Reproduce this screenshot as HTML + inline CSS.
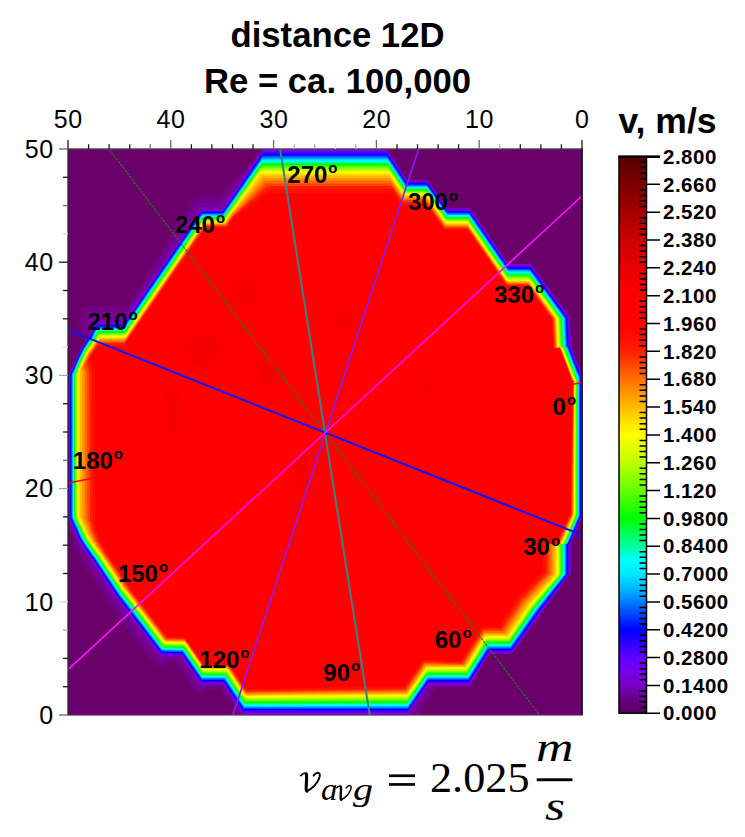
<!DOCTYPE html>
<html><head><meta charset="utf-8"><style>
html,body{margin:0;padding:0;background:#fff;width:745px;height:837px;overflow:hidden}
svg{display:block}
</style></head><body>
<svg width="745" height="837" viewBox="0 0 745 837">
<defs><clipPath id="pc"><rect x="68" y="149" width="514" height="566"/></clipPath>
<filter id="bl" x="-2%" y="-2%" width="104%" height="104%"><feGaussianBlur stdDeviation="0.6"/></filter><filter id="bb" x="-50%" y="-50%" width="200%" height="200%"><feGaussianBlur stdDeviation="5"/></filter>
<linearGradient id="cbg" x1="0" y1="1" x2="0" y2="0">
<stop offset="0.0000" stop-color="#58005c"/>
<stop offset="0.0250" stop-color="#680084"/>
<stop offset="0.0500" stop-color="#7800c3"/>
<stop offset="0.0750" stop-color="#7600eb"/>
<stop offset="0.1000" stop-color="#6000ff"/>
<stop offset="0.1250" stop-color="#3000ff"/>
<stop offset="0.1500" stop-color="#0000ff"/>
<stop offset="0.1750" stop-color="#0040ff"/>
<stop offset="0.2000" stop-color="#007dff"/>
<stop offset="0.2250" stop-color="#00b9ff"/>
<stop offset="0.2500" stop-color="#00e8ff"/>
<stop offset="0.2750" stop-color="#00ffff"/>
<stop offset="0.3000" stop-color="#00ffa0"/>
<stop offset="0.3250" stop-color="#00ff50"/>
<stop offset="0.3500" stop-color="#00ff00"/>
<stop offset="0.4000" stop-color="#64ff00"/>
<stop offset="0.4500" stop-color="#beff00"/>
<stop offset="0.5000" stop-color="#ffff00"/>
<stop offset="0.5250" stop-color="#ffde00"/>
<stop offset="0.5500" stop-color="#ffba00"/>
<stop offset="0.5750" stop-color="#ff9600"/>
<stop offset="0.6000" stop-color="#ff7000"/>
<stop offset="0.6250" stop-color="#ff4800"/>
<stop offset="0.6500" stop-color="#ff1e00"/>
<stop offset="0.7000" stop-color="#ff0000"/>
<stop offset="0.7500" stop-color="#ff0000"/>
<stop offset="0.8000" stop-color="#e80000"/>
<stop offset="0.8500" stop-color="#cd0000"/>
<stop offset="0.9000" stop-color="#a50000"/>
<stop offset="0.9500" stop-color="#7d0000"/>
<stop offset="1.0000" stop-color="#580000"/>
</linearGradient></defs>
<rect width="745" height="837" fill="#fff"/>
<g font-family="Liberation Sans, sans-serif" font-weight="bold" font-size="34.7" text-anchor="middle" fill="#000">
<text x="337.5" y="47">distance 12D</text>
<text x="337.5" y="93">Re = ca. 100,000</text>
</g>
<g clip-path="url(#pc)">
<rect x="68" y="149" width="514" height="566" fill="#6a006a"/>
<g filter="url(#bl)">
<path d="M263.1 149.1L262.4 150.4L258.4 153.9L219.1 195.4L198.4 195.6L193.4 197.6L189.6 201.1L187.9 204.4L187.1 207.1L128.1 305.4L125.6 304.9L92.4 305.4L87.9 306.6L85.1 308.1L80.9 312.1L78.4 316.9L77.6 319.9L77.6 325.1L78.1 327.4L80.9 332.9L84.1 336.1L87.1 337.9L87.4 338.6L82.1 346.4L77.6 355.4L73.4 365.6L68.6 374.9L68.6 514.6L66.9 515.4L65.9 516.4L65.4 517.9L65.6 519.1L69.1 526.6L68.6 529.1L71.1 535.1L70.6 537.1L70.9 538.9L73.6 544.1L73.4 545.6L73.9 547.9L80.4 557.6L80.4 560.1L81.4 563.4L106.4 600.6L106.6 602.1L109.4 606.6L153.4 663.9L156.9 665.9L158.9 666.4L162.1 666.4L166.6 664.6L169.4 661.9L174.1 661.9L192.9 689.1L196.6 692.6L199.6 693.6L202.4 693.6L204.9 692.9L206.9 691.6L209.1 688.9L220.6 688.9L239.1 716.9L241.9 718.9L244.1 718.9L245.6 718.1L246.9 716.9L247.9 714.4L398.4 714.4L399.6 718.6L402.1 721.6L404.1 722.9L406.6 723.6L410.4 723.4L412.4 722.6L415.4 720.1L437.1 688.1L470.9 687.9L472.6 686.4L472.9 685.6L472.6 683.6L471.6 682.6L472.1 681.4L489.6 653.6L511.9 653.6L541.4 612.6L570.6 573.1L570.6 543.6L582.1 516.9L582.1 374.9L571.1 347.4L569.6 317.6L530.6 264.1L508.4 264.1L470.1 208.6L447.9 208.6L427.6 180.6L407.1 180.6L386.6 149.1Z" fill="#6f007e"/>
<path d="M263.1 149.1L219.4 199.4L199.4 199.4L195.9 200.6L193.4 202.6L191.4 205.9L191.1 207.4L126.9 310.1L125.6 309.6L92.6 310.1L87.6 312.1L83.9 316.1L82.4 320.1L82.6 325.9L85.1 330.6L89.6 334.1L87.9 337.9L82.1 346.4L77.6 355.4L73.4 365.6L68.6 374.9L68.6 515.6L66.6 516.9L66.4 518.6L70.4 527.4L69.9 528.6L72.6 535.4L72.6 538.9L75.6 544.1L75.9 547.1L82.9 557.4L83.4 560.9L84.6 563.4L109.4 600.1L109.9 602.1L154.4 660.6L158.1 663.1L161.9 663.4L164.1 662.6L166.9 660.1L176.1 660.4L194.6 687.1L197.1 689.9L198.4 690.6L200.4 691.1L203.6 690.6L206.9 687.6L221.4 687.6L241.1 717.1L242.4 717.6L244.4 717.4L245.9 716.1L246.6 714.4L401.1 714.4L401.9 717.4L404.1 719.9L407.4 721.1L409.9 720.9L411.9 719.9L414.4 717.1L434.9 687.1L470.6 687.1L471.9 685.9L471.9 684.1L471.1 683.1L489.6 653.6L511.9 653.6L541.4 612.6L570.6 573.1L570.6 543.6L582.1 516.9L582.1 374.9L571.1 347.4L569.6 317.6L530.6 264.1L508.4 264.1L470.1 208.6L447.9 208.6L427.6 180.6L407.1 180.6L386.6 149.1Z" fill="#73008b"/>
<path d="M263.1 149.1L220.4 203.1L200.4 203.1L197.1 204.4L195.9 205.6L193.1 210.9L125.9 314.6L110.1 314.4L92.9 314.9L90.1 316.1L87.9 318.6L86.9 321.9L87.1 324.4L88.4 327.1L91.6 329.9L87.9 337.9L82.1 346.4L77.6 355.4L73.4 365.6L68.6 374.9L68.6 516.4L67.4 517.1L67.1 518.4L71.4 527.4L71.4 529.6L74.1 535.6L74.4 538.6L77.9 544.6L77.9 546.4L86.1 558.4L85.9 559.1L86.4 560.9L112.4 599.6L113.1 601.6L156.6 658.6L158.1 659.9L159.6 660.4L162.4 660.1L164.6 658.4L178.1 658.6L196.4 685.1L199.1 688.1L202.1 688.4L203.6 687.6L204.6 686.4L222.1 686.4L241.6 715.9L243.4 716.4L244.6 715.6L245.1 714.4L403.6 714.4L404.1 716.1L405.4 717.6L406.9 718.4L409.1 718.4L411.4 716.9L432.4 686.4L470.1 686.4L471.1 685.4L470.6 683.9L489.6 653.6L511.9 653.6L541.4 612.6L570.6 573.1L570.6 543.6L582.1 516.9L582.1 374.9L571.1 347.4L569.6 317.6L530.6 264.1L508.4 264.1L470.1 208.6L447.9 208.6L427.6 180.6L407.1 180.6L386.6 149.1Z" fill="#760098"/>
<path d="M263.1 149.1L221.6 207.1L200.1 207.1L198.9 208.1L124.4 319.1L94.4 319.4L93.1 319.9L91.9 321.1L91.9 323.9L93.6 325.6L87.9 337.9L82.1 346.4L77.6 355.4L73.4 365.6L68.6 374.9L68.6 517.4L68.1 517.6L68.1 518.4L72.6 528.1L72.9 529.9L75.9 536.6L75.9 537.6L79.9 544.6L79.9 545.6L88.9 558.6L88.9 559.6L115.4 599.6L158.9 656.6L159.9 657.4L161.1 657.4L162.1 656.6L180.1 656.9L200.4 685.9L201.6 685.9L202.4 685.1L222.9 685.1L242.4 714.9L243.1 715.1L243.9 714.4L406.1 714.4L407.4 715.9L408.6 715.9L429.9 685.4L470.1 685.4L470.9 683.4L489.6 653.6L511.9 653.6L541.4 612.6L570.6 573.1L570.6 543.6L582.1 516.9L582.1 374.9L571.1 347.4L569.6 317.6L530.6 264.1L508.4 264.1L470.1 208.6L447.9 208.6L427.6 180.6L407.1 180.6L386.6 149.1Z" fill="#7900a6"/>
<path d="M263.1 149.1L222.6 209.6L201.1 209.6L123.9 321.9L123.6 322.1L116.6 322.1L116.4 322.4L94.9 322.6L87.9 337.9L82.1 346.4L77.6 355.4L73.4 365.6L68.6 374.9L68.6 518.4L76.1 535.4L81.1 544.9L116.9 598.4L160.6 655.6L181.6 656.1L201.1 684.4L223.4 684.4L243.1 714.4L408.1 714.4L428.4 685.1L469.9 685.1L489.6 653.6L511.9 653.6L541.4 612.6L570.6 573.1L570.6 543.6L582.1 516.9L582.1 374.9L571.1 347.4L569.6 317.6L530.6 264.1L508.4 264.1L470.1 208.6L447.9 208.6L427.6 180.6L407.1 180.6L386.6 149.1Z" fill="#7f00d0"/>
<path d="M262.9 150.9L222.6 210.6L201.1 210.6L124.4 322.4L123.6 323.1L122.1 323.4L95.1 323.6L89.1 337.1L82.9 346.1L77.4 357.1L73.1 367.4L69.4 374.9L69.4 518.1L74.4 528.9L77.1 535.9L82.6 545.9L91.9 559.1L117.4 597.6L160.9 654.4L181.6 654.9L183.6 657.4L201.1 683.1L223.6 683.1L243.1 712.9L407.9 712.9L428.1 683.6L469.4 683.6L488.1 653.6L489.4 652.1L511.4 652.1L540.4 611.9L569.4 573.4L569.4 543.9L569.9 543.6L581.4 516.4L581.4 375.4L570.4 347.4L569.9 346.9L568.4 317.4L530.4 265.4L508.4 265.4L507.6 264.6L469.6 209.6L447.6 209.6L427.4 181.6L406.9 181.6L386.6 150.9Z" fill="#6000ff"/>
<path d="M262.9 152.6L222.9 211.6L201.4 211.6L124.4 323.6L123.6 324.4L95.6 324.9L89.6 337.6L88.9 338.1L83.1 346.9L78.6 355.6L73.6 367.6L70.1 374.6L70.1 518.1L75.4 529.4L77.9 535.9L81.6 542.9L92.1 558.1L117.9 596.9L161.1 653.4L164.9 653.4L165.1 653.6L181.9 653.9L201.4 681.9L223.6 681.9L230.9 692.4L243.4 711.6L407.9 711.4L427.9 682.4L469.1 682.4L488.9 650.9L511.4 650.9L538.6 612.6L568.6 573.4L568.4 573.1L568.4 543.9L569.1 543.6L569.9 542.4L580.9 516.1L580.9 375.9L579.1 372.1L569.6 347.4L568.9 346.9L567.4 317.4L530.4 266.6L508.1 266.6L469.6 210.9L447.6 210.9L445.4 208.1L427.4 182.6L406.6 182.6L386.9 152.6Z" fill="#2d00ff"/>
<path d="M262.6 154.4L223.1 212.4L201.9 212.4L124.4 324.9L123.9 325.4L117.9 325.4L117.6 325.6L95.9 325.9L90.4 337.9L89.9 338.4L89.6 338.1L83.6 347.1L78.9 356.4L73.4 369.6L70.6 374.9L70.6 517.6L74.9 527.1L75.6 528.1L78.6 535.9L84.4 545.9L92.9 557.9L118.6 596.6L161.4 652.4L163.6 652.6L182.1 652.9L201.6 680.9L224.1 680.9L243.4 710.1L407.9 710.1L427.9 681.1L468.9 681.1L488.6 649.9L510.9 649.9L537.6 612.4L567.6 573.6L567.6 543.9L568.6 543.6L580.1 516.4L580.1 376.1L568.9 347.4L568.1 347.1L567.9 346.1L566.6 317.9L530.1 267.9L508.1 267.9L469.4 211.9L447.4 211.9L427.1 183.6L406.4 183.6L387.1 154.4Z" fill="#0005ff"/>
<path d="M262.6 155.6L223.1 213.1L201.9 213.1L123.9 326.4L96.1 326.6L90.9 338.1L89.6 338.9L83.6 347.9L79.1 356.9L74.1 369.1L71.1 375.1L71.1 517.4L75.4 526.9L76.1 527.9L79.4 536.1L83.4 543.4L95.1 560.1L118.9 595.9L161.6 651.6L164.6 651.6L164.9 651.9L182.4 652.1L201.6 679.9L224.4 679.9L243.6 709.1L407.9 708.9L427.9 680.1L468.6 680.1L488.4 648.9L510.9 648.9L537.4 611.4L566.9 573.6L566.6 573.4L566.6 543.9L568.1 543.6L579.9 515.6L579.9 376.6L576.6 369.1L568.4 347.6L567.4 347.1L567.1 346.1L565.9 317.9L530.1 268.9L508.1 268.9L469.1 212.6L447.1 212.6L427.1 184.6L406.4 184.6L387.1 155.6Z" fill="#0044ff"/>
<path d="M262.4 157.1L223.1 213.9L202.1 213.9L124.4 326.9L124.1 327.1L116.9 327.1L116.6 327.4L96.4 327.6L91.4 338.4L90.4 338.6L84.1 347.9L79.4 357.4L75.4 366.6L74.9 368.6L71.9 374.6L71.9 517.6L75.6 526.1L76.6 527.6L79.9 535.9L83.6 542.6L98.9 564.6L119.1 595.1L161.9 650.9L165.9 650.9L166.1 651.1L182.6 651.4L201.9 679.1L224.6 679.1L243.9 708.1L407.9 707.9L427.6 679.1L468.6 679.1L488.1 647.9L510.6 647.9L536.6 611.1L565.9 574.1L565.9 543.9L567.6 543.6L579.4 515.6L579.4 376.9L576.6 370.6L567.6 347.4L566.6 347.1L566.4 346.4L565.1 317.9L530.1 269.9L508.1 269.9L507.4 269.1L469.1 213.4L447.1 213.4L426.9 185.4L406.1 185.4L387.4 157.1Z" fill="#0081ff"/>
<path d="M262.4 158.4L223.4 214.6L202.4 214.6L201.6 215.4L124.9 327.1L124.1 327.9L120.9 327.9L120.6 328.1L96.6 328.4L91.6 338.9L90.9 338.6L84.4 348.4L79.6 357.9L75.4 367.6L75.1 369.1L72.4 374.6L72.4 517.4L77.6 528.6L80.1 535.1L83.4 541.1L86.6 546.1L95.4 558.4L119.6 594.9L122.6 598.4L161.9 650.1L182.6 650.6L183.6 651.6L201.9 678.1L224.6 678.1L243.9 707.1L407.9 706.9L427.6 678.1L468.4 678.1L487.9 646.9L510.6 646.9L536.6 609.9L565.4 573.9L565.1 573.6L565.1 543.9L567.1 543.6L578.9 515.9L578.9 377.1L575.9 370.1L567.1 347.4L565.9 347.1L564.4 317.9L529.9 270.6L507.9 270.6L469.1 214.4L447.1 214.4L426.9 186.1L405.9 186.1L387.4 158.4Z" fill="#00bcff"/>
<path d="M262.1 159.6L223.4 215.4L202.4 215.4L124.9 327.9L124.1 328.6L96.9 329.1L92.4 338.6L90.9 339.4L84.6 348.6L79.9 358.1L75.9 367.4L75.6 368.9L72.9 374.4L72.9 517.6L78.1 528.6L80.6 535.1L85.1 543.1L93.9 555.9L95.1 557.1L120.1 594.6L121.4 595.9L162.4 649.6L182.9 650.1L183.9 651.1L202.1 677.6L225.1 677.6L244.1 706.4L407.9 705.9L427.6 677.4L468.1 677.4L486.6 647.6L487.9 646.1L510.4 646.1L536.6 608.9L564.6 574.1L564.6 543.9L566.6 543.6L567.4 542.4L578.6 515.4L578.6 377.6L576.9 373.9L566.6 347.4L565.1 347.1L563.9 318.4L562.4 315.9L530.1 271.6L508.1 271.6L507.4 270.9L468.9 214.9L446.9 214.9L426.9 186.9L405.6 186.9L387.6 159.6Z" fill="#00eaff"/>
<path d="M262.1 160.6L223.4 215.9L202.6 215.9L124.6 329.1L124.4 329.4L97.1 329.9L92.4 339.4L91.6 339.1L84.9 348.9L80.4 357.9L75.9 368.4L76.1 368.6L73.1 374.9L73.1 517.1L78.6 528.6L81.1 535.1L86.4 544.1L94.1 555.4L95.4 556.6L120.4 594.1L124.1 598.6L162.4 648.9L165.9 648.9L166.1 649.1L183.1 649.4L202.1 676.9L225.1 676.9L244.4 705.6L244.9 705.4L407.9 705.1L427.4 676.6L467.9 676.6L486.9 646.1L487.6 645.4L510.1 645.4L535.6 609.1L563.9 574.4L563.9 543.9L566.4 543.6L578.1 515.6L578.1 377.6L577.4 376.4L566.1 347.4L564.6 347.1L563.1 317.9L529.9 272.4L507.9 272.4L468.6 215.6L446.9 215.6L426.6 187.6L405.6 187.6L387.6 160.6Z" fill="#00fff8"/>
<path d="M387.9 161.6L387.6 161.9L261.9 161.9L223.6 216.4L202.6 216.4L124.4 330.1L112.1 330.1L111.9 330.4L97.9 330.4L97.1 330.9L93.1 339.1L92.6 339.6L91.9 339.1L86.1 348.1L85.1 349.1L80.9 357.6L76.1 368.6L76.4 369.1L73.6 374.6L73.6 517.1L77.9 526.6L78.4 526.9L81.6 535.1L85.1 541.4L94.9 555.6L95.6 556.1L120.6 593.6L122.9 596.1L162.6 648.4L183.4 648.9L202.1 676.1L225.4 676.1L244.4 704.6L407.9 704.1L427.4 675.9L467.6 675.9L487.4 644.6L510.1 644.6L535.6 608.1L563.4 574.1L563.4 543.9L566.1 543.4L577.9 515.4L577.9 377.9L577.1 376.9L566.1 348.4L565.6 347.4L564.4 347.4L563.9 346.9L562.6 318.1L529.9 273.1L507.9 273.1L468.6 216.4L446.9 216.4L445.9 215.4L426.6 188.1L405.4 188.1Z" fill="#00ff9a"/>
<path d="M261.9 162.9L226.9 212.1L223.6 217.1L202.9 217.1L124.9 330.4L123.4 330.9L97.6 331.1L93.4 339.6L92.4 339.4L85.1 349.9L81.4 357.4L76.6 368.4L76.6 369.4L74.1 374.6L74.1 517.1L77.1 523.9L78.9 526.9L81.4 533.4L85.6 541.4L95.1 555.1L95.9 555.6L120.9 593.1L122.4 594.6L162.6 647.6L183.4 648.1L202.1 675.4L225.6 675.4L244.4 703.9L407.6 703.4L427.4 674.9L467.6 674.9L487.1 643.9L509.9 643.9L534.6 608.4L562.6 574.4L562.6 543.9L562.9 543.6L565.6 543.6L577.6 514.9L577.6 378.4L576.6 376.9L565.4 347.6L563.4 347.4L561.9 317.9L529.6 273.9L507.9 273.9L507.1 273.1L468.4 216.9L446.6 216.9L426.4 188.9L405.4 188.9L387.9 162.9Z" fill="#00ff4a"/>
<path d="M261.6 164.1L223.6 217.9L202.9 217.9L125.1 330.9L124.4 331.6L97.9 331.9L94.1 339.4L93.6 339.9L93.1 339.6L92.4 339.9L85.6 349.9L81.1 358.9L76.9 368.9L77.1 369.4L74.6 374.6L74.6 516.9L78.1 524.9L79.6 527.4L82.4 534.4L87.1 542.6L95.6 554.9L96.4 555.4L121.6 593.1L123.1 594.6L162.6 646.6L164.9 647.1L183.6 647.4L202.4 674.6L225.9 674.6L244.6 702.9L407.6 702.4L426.4 675.1L427.4 674.1L467.4 674.1L485.9 644.4L487.1 642.9L509.9 642.9L534.1 607.9L562.1 574.4L561.9 573.9L561.9 543.9L562.1 543.6L565.1 543.6L577.1 515.1L577.1 378.6L574.1 371.9L564.6 347.4L563.6 347.6L562.6 347.4L561.4 318.4L529.9 274.9L507.9 274.9L507.1 274.1L468.1 217.6L446.4 217.6L426.4 189.6L405.1 189.6L388.1 164.1Z" fill="#04ff00"/>
<path d="M261.4 165.4L228.4 211.6L223.9 218.4L203.1 218.4L124.6 332.4L99.1 332.6L97.9 332.9L94.6 339.6L94.1 340.1L93.1 339.6L85.4 351.1L81.1 359.9L77.1 369.1L77.4 369.4L77.1 370.4L75.1 374.4L75.1 516.9L79.1 525.9L79.9 526.6L82.6 533.6L86.4 540.6L95.9 554.4L96.9 555.1L121.6 592.1L124.6 595.6L163.1 646.4L183.6 646.6L202.6 673.9L226.1 673.9L244.6 701.9L407.6 701.4L426.4 674.1L427.4 673.1L467.1 673.1L486.6 642.1L509.6 642.1L533.6 607.4L561.4 574.4L561.1 573.6L561.1 543.9L561.4 543.6L564.6 543.6L576.6 515.1L576.6 378.6L575.9 377.6L564.4 347.9L564.1 347.4L563.6 347.6L562.1 347.4L560.6 318.1L529.6 275.6L507.6 275.6L468.1 218.4L446.4 218.4L426.1 190.4L404.9 190.4L388.4 165.4Z" fill="#36ff00"/>
<path d="M261.4 166.6L237.9 199.1L223.9 219.1L203.4 219.1L125.4 332.4L124.6 333.1L98.1 333.6L95.1 339.9L94.6 340.4L93.4 339.9L87.4 349.1L86.4 350.1L81.9 359.1L77.6 369.1L77.9 369.6L75.6 374.4L75.6 516.9L78.9 524.1L80.9 527.6L83.4 534.1L87.4 541.1L96.4 554.1L97.4 554.9L122.1 591.9L125.4 595.6L163.4 645.6L183.9 646.1L184.9 647.1L202.6 672.9L226.1 672.9L244.6 700.9L407.6 700.4L427.1 672.4L466.9 672.4L486.6 641.1L509.4 641.1L533.1 606.9L560.6 574.4L560.6 543.9L564.4 543.4L576.4 514.6L576.4 379.1L575.1 377.1L563.6 347.6L561.4 347.4L559.9 318.1L529.6 276.6L507.6 276.6L467.9 219.1L446.1 219.1L426.1 191.1L404.9 191.1L388.4 166.6Z" fill="#67ff00"/>
<path d="M261.1 167.9L229.1 212.1L223.9 219.9L203.4 219.9L125.1 333.6L124.9 333.9L117.9 333.9L117.6 334.1L98.4 334.4L95.4 340.4L94.9 340.6L93.9 340.1L85.6 352.4L77.9 369.4L78.1 370.1L76.1 374.4L76.1 516.6L79.9 525.1L81.1 526.9L83.6 533.4L87.1 539.9L96.9 553.9L97.9 554.6L122.6 591.6L126.9 596.6L163.6 644.9L184.1 645.4L202.6 672.1L226.4 672.1L244.9 700.1L304.9 699.9L305.1 699.6L357.4 699.6L357.6 699.4L407.6 699.4L427.1 671.4L466.9 671.4L485.6 641.1L486.4 640.4L509.1 640.4L532.6 606.4L559.9 574.6L559.9 543.9L563.9 543.4L575.9 514.6L575.9 379.4L574.9 377.9L563.1 347.6L560.6 347.4L559.1 318.1L529.4 277.4L507.6 277.4L506.9 276.6L467.9 220.1L446.4 220.1L426.1 191.9L404.6 191.9L388.6 167.9Z" fill="#94ff00"/>
<path d="M260.9 169.1L229.4 212.6L224.1 220.6L203.6 220.6L125.6 333.9L124.9 334.6L122.4 334.6L122.1 334.9L98.6 335.1L95.6 340.9L94.6 340.4L93.9 340.6L88.1 349.6L86.9 350.9L78.6 368.6L78.4 369.4L78.6 370.1L76.6 374.4L76.6 516.4L80.1 524.4L81.4 526.1L83.9 532.6L87.6 539.6L97.4 553.6L98.4 554.4L122.1 589.9L126.1 594.6L163.9 644.1L184.4 644.6L202.9 671.4L226.6 671.4L245.1 699.1L407.9 698.1L426.1 671.4L427.1 670.4L466.6 670.4L486.1 639.4L509.1 639.4L531.9 606.1L559.1 574.6L559.1 543.9L563.4 543.4L575.4 514.9L575.4 379.6L573.6 376.1L562.6 347.6L560.1 347.6L559.9 347.4L558.6 318.9L556.9 315.9L529.4 278.4L507.6 278.4L506.9 277.6L467.9 220.9L446.1 220.9L425.9 192.6L404.4 192.6L388.6 169.1L387.6 169.4L261.9 169.4Z" fill="#c0ff00"/>
<path d="M388.9 170.4L388.6 170.6L260.6 170.6L230.9 211.4L224.1 221.4L203.6 221.4L125.6 334.9L124.9 335.6L98.9 335.9L96.1 341.1L94.6 340.4L88.1 350.4L87.1 351.4L82.1 361.6L78.6 369.9L79.1 370.1L77.1 374.4L77.1 516.4L80.4 523.6L81.9 525.9L83.6 530.6L85.9 535.4L88.1 539.4L97.9 553.4L98.9 554.1L123.4 590.6L125.4 592.6L163.9 643.4L184.6 643.9L202.9 670.4L226.9 670.4L245.1 698.1L407.6 697.1L426.9 669.4L466.4 669.4L484.6 640.1L485.9 638.6L508.6 638.6L509.4 637.9L531.1 605.9L558.4 574.6L558.4 543.9L562.9 543.4L575.1 514.1L575.1 380.1L573.9 378.1L562.4 348.4L561.9 347.6L559.4 347.6L559.1 347.4L557.9 318.4L529.4 279.4L507.6 279.4L506.9 278.6L467.6 221.6L446.1 221.6L425.9 193.6L404.4 193.6Z" fill="#e1ff00"/>
<path d="M260.6 171.9L231.1 211.9L224.1 222.1L203.9 222.1L125.6 335.9L125.1 336.4L99.1 336.9L96.6 341.4L95.1 340.6L88.9 350.1L87.6 351.4L83.1 360.4L79.1 369.6L79.4 370.6L77.6 374.4L77.6 516.1L81.6 525.1L81.9 524.9L82.4 525.6L84.9 532.1L88.6 539.1L98.6 553.4L98.9 553.1L123.6 589.9L127.1 593.9L164.1 642.6L184.6 643.1L203.1 669.6L227.1 669.6L245.4 697.1L407.6 696.1L426.6 668.6L466.1 668.6L485.6 637.6L508.6 637.6L530.4 605.6L557.6 574.6L557.6 543.9L562.4 543.4L574.6 514.4L574.6 380.4L573.4 378.4L561.4 347.6L558.9 347.6L558.4 347.1L557.1 318.4L529.4 280.4L507.6 280.4L503.9 275.4L467.4 222.4L445.9 222.4L425.9 194.4L404.1 194.4L389.1 171.9Z" fill="#fffd00"/>
<path d="M260.6 173.1L229.9 214.4L224.4 222.6L204.1 222.6L125.9 336.4L125.1 337.1L121.6 337.1L121.4 337.4L99.4 337.6L97.1 341.6L95.4 340.9L88.9 350.9L87.6 352.1L84.1 359.1L79.4 370.1L79.9 370.6L78.4 373.9L78.4 516.4L81.4 523.1L83.1 525.9L85.6 532.4L90.4 540.6L98.4 552.1L99.6 553.1L124.1 589.6L127.9 593.9L164.1 641.6L168.1 642.1L184.9 642.4L203.1 668.9L227.4 668.9L245.4 696.1L407.6 695.1L426.6 667.6L465.9 667.6L485.4 636.6L508.4 636.6L530.4 604.4L556.9 574.6L556.6 573.6L556.6 543.9L556.9 543.6L561.9 543.6L574.1 514.4L574.4 380.9L572.9 378.4L560.9 347.6L558.6 347.9L557.9 347.6L556.4 318.4L529.1 281.1L507.4 281.1L467.4 223.1L445.6 223.1L425.6 195.1L403.9 195.1L389.1 173.1L388.1 173.4L261.4 173.4Z" fill="#ffdb00"/>
<path d="M389.1 175.1L388.6 175.4L261.9 175.4L231.4 213.4L224.6 223.1L204.4 223.1L125.4 337.9L125.1 338.1L117.4 338.1L117.1 338.4L99.6 338.6L97.6 341.9L95.9 341.1L89.4 351.1L88.1 352.4L84.6 359.4L79.9 370.4L80.6 370.9L79.9 372.6L80.1 374.1L80.1 516.4L83.1 523.6L84.4 525.4L86.6 531.6L89.9 538.1L99.4 552.1L100.1 552.6L125.1 589.9L128.6 593.9L163.9 640.4L164.9 641.4L184.9 641.9L203.1 668.4L227.6 668.4L245.4 695.4L407.4 694.1L426.1 666.9L465.4 666.9L483.9 637.1L485.1 635.6L507.4 635.6L528.4 604.4L555.4 574.4L555.4 543.9L555.6 543.6L561.1 543.6L573.9 513.9L574.1 380.9L572.9 378.9L560.6 347.6L558.6 347.9L557.4 347.6L555.9 318.4L528.9 281.6L507.4 281.6L506.6 280.9L467.4 223.9L445.6 223.9L425.6 196.1L403.6 196.1L396.9 185.9Z" fill="#ffb700"/>
<path d="M389.4 177.6L387.9 177.9L263.4 177.9L230.9 215.1L225.1 223.9L204.4 223.9L125.6 338.4L124.9 339.1L123.4 339.4L99.9 339.6L98.4 342.1L96.6 341.4L90.4 350.9L88.6 352.9L85.1 359.9L81.1 369.1L82.1 373.1L82.4 516.9L84.9 523.4L85.6 524.1L88.4 532.1L92.4 540.1L105.4 558.9L125.4 588.9L129.1 593.4L165.1 640.6L167.1 640.9L184.9 641.1L203.4 667.9L227.9 667.9L245.6 694.4L406.9 693.1L425.6 665.9L464.6 666.1L484.6 634.1L506.1 634.1L527.1 602.9L553.6 573.9L553.4 573.6L553.4 543.9L553.6 543.6L560.4 543.6L573.1 514.4L573.9 380.9L572.6 378.9L560.4 347.6L558.6 347.9L556.6 347.6L555.6 323.6L555.4 323.4L555.1 318.4L528.9 282.4L507.1 282.4L467.4 224.9L445.4 224.9L425.6 197.4L403.1 197.4L396.4 186.9Z" fill="#ff9300"/>
<path d="M264.9 180.4L231.4 215.6L225.4 224.6L204.6 224.6L128.4 335.4L124.6 340.4L100.1 340.9L99.4 342.4L97.4 341.6L90.9 351.4L89.4 353.1L85.4 361.1L82.6 367.6L83.6 369.6L84.4 372.6L84.9 517.9L86.6 522.9L87.4 523.6L89.9 531.6L93.9 540.4L126.4 588.9L165.4 639.9L166.1 640.1L184.6 640.4L185.6 641.4L203.4 667.1L228.1 667.1L245.6 693.4L406.4 691.9L425.1 664.6L463.9 665.1L484.1 632.9L504.6 632.9L525.1 602.1L551.6 573.4L551.6 543.9L551.9 543.6L559.6 543.6L561.1 539.9L572.6 514.1L573.6 382.1L573.9 381.1L572.4 378.9L560.1 347.6L558.6 347.9L556.1 347.6L554.6 318.6L528.6 283.1L507.1 283.1L467.6 225.9L445.1 225.9L425.6 198.6L402.6 198.6L395.4 187.4L389.6 180.4Z" fill="#ff6d00"/>
<path d="M390.1 183.1L387.6 183.4L266.4 183.4L265.9 183.6L231.9 216.4L225.9 225.4L204.6 225.4L124.9 341.4L122.6 341.9L100.6 342.1L99.9 342.9L98.6 342.1L97.9 342.1L91.1 352.4L90.1 353.4L86.9 359.6L84.4 365.4L85.6 368.1L86.9 372.9L87.4 518.9L88.4 522.1L89.1 522.9L91.4 530.9L95.1 539.9L102.4 550.9L102.4 551.4L127.6 589.1L165.6 638.9L166.9 639.4L184.6 639.6L185.6 640.6L203.4 666.6L228.6 666.6L245.6 692.4L405.9 690.6L424.4 663.6L438.1 663.6L438.4 663.9L462.9 664.4L483.9 631.1L503.1 631.1L523.4 600.9L549.4 573.1L549.4 543.9L549.6 543.6L558.9 543.6L572.1 513.6L572.1 492.6L572.4 492.4L572.4 471.4L572.6 471.1L572.6 450.1L572.9 449.9L572.9 428.9L573.1 428.6L573.6 381.4L572.1 378.9L559.9 347.6L558.6 347.9L555.6 347.9L555.4 347.6L554.1 321.1L553.6 318.4L528.4 283.9L507.1 283.9L506.4 283.1L467.6 226.9L444.9 226.9L425.6 200.1L402.4 200.1L394.6 188.4Z" fill="#ff4500"/>
<path d="M390.6 185.9L390.4 186.1L267.6 186.1L232.6 216.6L226.4 226.1L204.9 226.1L124.4 343.1L99.1 343.4L97.9 343.6L92.1 352.4L90.6 354.1L86.1 363.4L88.4 368.1L89.4 372.4L89.9 513.6L90.1 513.9L89.9 520.1L91.1 522.6L94.1 533.6L96.6 539.1L96.9 540.4L103.1 549.9L103.4 551.1L129.1 589.6L166.1 638.1L168.9 638.6L184.9 638.9L203.4 665.9L228.9 665.9L245.9 691.4L405.1 689.4L423.9 662.4L434.4 662.4L434.6 662.6L443.1 662.6L443.4 662.9L462.1 663.4L482.6 630.4L483.4 629.6L501.6 629.6L521.6 599.4L547.4 572.4L547.4 543.9L547.6 543.6L557.9 543.6L559.6 539.4L571.4 513.9L573.4 381.4L572.1 379.6L559.6 347.6L558.6 347.9L554.9 347.9L554.6 347.6L553.1 318.9L528.1 284.6L506.9 284.6L467.6 227.9L444.6 227.9L425.9 201.6L401.9 201.6L393.9 189.4Z" fill="#ff1d00"/>
<path d="M391.6 188.9L390.9 189.1L268.9 189.1L234.4 216.1L233.1 217.4L226.6 227.1L205.1 227.1L124.9 343.6L124.1 344.4L121.1 344.4L120.9 344.6L97.9 344.9L93.1 352.4L91.4 354.4L87.9 361.6L90.6 366.6L91.6 370.1L92.1 373.6L92.6 511.4L92.9 511.6L92.6 521.1L94.6 529.4L95.6 531.6L95.9 533.6L97.9 538.1L98.6 540.9L103.9 548.9L104.1 550.4L130.6 590.1L166.9 637.6L184.9 638.1L203.4 665.1L229.1 665.1L235.9 674.9L245.9 690.4L247.4 690.1L263.6 690.1L263.9 689.9L280.4 689.9L280.6 689.6L297.1 689.6L297.4 689.4L313.9 689.4L314.1 689.1L330.6 689.1L330.9 688.9L404.6 687.9L423.1 661.1L432.9 661.1L433.1 661.4L440.1 661.4L440.4 661.6L447.1 661.6L447.4 661.9L454.1 661.9L454.4 662.1L461.4 662.1L482.9 627.9L500.1 627.9L519.6 598.1L544.9 572.1L545.1 571.6L545.1 543.9L545.4 543.6L557.1 543.6L559.6 537.4L570.6 513.9L573.1 381.6L571.6 379.1L559.4 347.6L558.6 347.9L554.1 347.9L553.9 347.6L552.6 321.1L552.1 318.6L527.9 285.6L506.9 285.6L467.6 228.9L444.1 228.9L425.9 203.1L401.4 203.1L392.9 190.1Z" fill="#ff0e00"/>
<path d="M392.4 191.9L389.6 192.4L269.4 192.4L234.4 217.1L227.1 227.9L205.4 227.9L123.9 345.9L98.1 346.4L93.1 353.9L92.1 354.9L89.9 359.4L89.9 359.9L92.4 363.9L93.9 367.9L94.6 371.4L94.6 374.4L94.9 374.6L95.1 456.1L95.4 456.4L95.4 496.9L95.6 497.1L95.6 520.6L95.1 522.9L96.4 528.6L97.9 533.1L98.1 535.4L99.4 537.6L100.1 540.6L105.1 548.6L104.9 549.1L105.1 549.9L132.1 590.6L167.6 636.9L184.6 637.1L203.6 664.4L229.6 664.4L246.1 689.1L328.4 687.9L328.6 687.6L343.4 687.6L343.6 687.4L358.4 687.4L358.6 687.1L373.4 687.1L373.6 686.9L388.4 686.9L388.6 686.6L403.4 686.6L404.6 685.9L422.6 659.9L432.9 659.9L433.1 660.1L460.4 661.1L482.1 626.4L498.4 626.4L518.1 596.1L542.9 571.1L542.9 543.9L543.1 543.6L556.1 543.6L558.1 538.6L569.9 513.9L572.9 381.6L571.6 379.9L559.1 347.6L558.6 347.9L553.9 347.9L553.6 348.1L553.1 347.9L551.6 319.1L527.6 286.4L506.6 286.4L467.9 230.1L444.1 230.1L425.6 204.6L400.9 204.6Z" fill="#ff0000"/>
</g>
<g filter="url(#bb)" fill="#a00000" opacity="0.13">
<ellipse cx="204" cy="349" rx="17" ry="15"/>
<ellipse cx="245" cy="290" rx="11" ry="11"/>
<ellipse cx="269" cy="373" rx="12" ry="14"/>
<ellipse cx="172" cy="411" rx="7" ry="20"/>
<ellipse cx="426" cy="388" rx="4" ry="18"/>
<ellipse cx="300" cy="470" rx="6" ry="20"/>
<ellipse cx="352" cy="318" rx="20" ry="6"/>
</g>
<line x1="68.0" y1="483.0" x2="582.0" y2="382.5" stroke="#ff0000" stroke-width="1.5"/>
<line x1="109.3" y1="149.3" x2="539.6" y2="715.0" stroke="#2a742a" stroke-width="1.2" stroke-dasharray="2.6 1.1"/>
<line x1="280.1" y1="149.0" x2="369.7" y2="715.0" stroke="#3a8282" stroke-width="2.0"/>
<line x1="418.6" y1="149.0" x2="232.5" y2="716.2" stroke="#8a1aff" stroke-width="1.6"/>
<line x1="68.0" y1="330.0" x2="582.0" y2="535.1" stroke="#1010ff" stroke-width="1.9"/>
<line x1="68.0" y1="669.6" x2="582.0" y2="196.0" stroke="#ff10ff" stroke-width="1.6"/>
</g>
<g font-family="Liberation Sans, sans-serif" font-weight="bold" fill="#000">
<text x="287.3" y="182.9" font-size="24">270<tspan font-size="15" dy="-9.5" dx="1">o</tspan></text>
<text x="407.9" y="210.4" font-size="24">300<tspan font-size="15" dy="-9.5" dx="1">o</tspan></text>
<text x="494.0" y="302.5" font-size="24">330<tspan font-size="15" dy="-9.5" dx="1">o</tspan></text>
<text x="552.6" y="414.8" font-size="24">0<tspan font-size="15" dy="-9.5" dx="1">o</tspan></text>
<text x="523.2" y="555.0" font-size="24">30<tspan font-size="15" dy="-9.5" dx="1">o</tspan></text>
<text x="434.7" y="647.7" font-size="24">60<tspan font-size="15" dy="-9.5" dx="1">o</tspan></text>
<text x="323.3" y="680.8" font-size="24">90<tspan font-size="15" dy="-9.5" dx="1">o</tspan></text>
<text x="199.3" y="667.5" font-size="24">120<tspan font-size="15" dy="-9.5" dx="1">o</tspan></text>
<text x="117.9" y="581.7" font-size="24">150<tspan font-size="15" dy="-9.5" dx="1">o</tspan></text>
<text x="72.8" y="468.6" font-size="24">180<tspan font-size="15" dy="-9.5" dx="1">o</tspan></text>
<text x="87.5" y="329.9" font-size="24">210<tspan font-size="15" dy="-9.5" dx="1">o</tspan></text>
<text x="174.9" y="232.8" font-size="24">240<tspan font-size="15" dy="-9.5" dx="1">o</tspan></text>
</g>
<path d="M67.8 148.9H582.4" stroke="#4a4a4a" stroke-width="1.2" fill="none"/>
<path d="M68 148.3V715.6" stroke="#262626" stroke-width="1.3" fill="none"/>
<path d="M582.2 148.3V715.6" stroke="#000" stroke-width="1.3" fill="none"/>
<path d="M68 715.4H582.8" stroke="#8a7a8a" stroke-width="1" fill="none"/>
<path d="M68.0 140.0V149.0" stroke="#1a1a1a" stroke-width="1.3"/>
<path d="M88.6 144.2V149.0" stroke="#1a1a1a" stroke-width="1.3"/>
<path d="M109.1 144.2V149.0" stroke="#1a1a1a" stroke-width="1.3"/>
<path d="M129.7 144.2V149.0" stroke="#1a1a1a" stroke-width="1.3"/>
<path d="M150.2 144.2V149.0" stroke="#6a6a6a" stroke-width="1.3"/>
<path d="M170.8 140.0V149.0" stroke="#6a6a6a" stroke-width="1.3"/>
<path d="M191.4 144.2V149.0" stroke="#1a1a1a" stroke-width="1.3"/>
<path d="M211.9 144.2V149.0" stroke="#1a1a1a" stroke-width="1.3"/>
<path d="M232.5 144.2V149.0" stroke="#1a1a1a" stroke-width="1.3"/>
<path d="M253.0 144.2V149.0" stroke="#1a1a1a" stroke-width="1.3"/>
<path d="M273.6 140.0V149.0" stroke="#6a6a6a" stroke-width="1.3"/>
<path d="M294.2 144.2V149.0" stroke="#a8a8a8" stroke-width="1.3"/>
<path d="M314.7 144.2V149.0" stroke="#a8a8a8" stroke-width="1.3"/>
<path d="M335.3 144.2V149.0" stroke="#dcdcdc" stroke-width="1.3"/>
<path d="M355.8 144.2V149.0" stroke="#a8a8a8" stroke-width="1.3"/>
<path d="M376.4 140.0V149.0" stroke="#6a6a6a" stroke-width="1.3"/>
<path d="M397.0 144.2V149.0" stroke="#1a1a1a" stroke-width="1.3"/>
<path d="M417.5 144.2V149.0" stroke="#1a1a1a" stroke-width="1.3"/>
<path d="M438.1 144.2V149.0" stroke="#1a1a1a" stroke-width="1.3"/>
<path d="M458.6 144.2V149.0" stroke="#1a1a1a" stroke-width="1.3"/>
<path d="M479.2 140.0V149.0" stroke="#6a6a6a" stroke-width="1.3"/>
<path d="M499.8 144.2V149.0" stroke="#a8a8a8" stroke-width="1.3"/>
<path d="M520.3 144.2V149.0" stroke="#1a1a1a" stroke-width="1.3"/>
<path d="M540.9 144.2V149.0" stroke="#1a1a1a" stroke-width="1.3"/>
<path d="M561.4 144.2V149.0" stroke="#1a1a1a" stroke-width="1.3"/>
<path d="M582.0 140.0V149.0" stroke="#1a1a1a" stroke-width="1.3"/>
<path d="M59.0 149.0H68.0" stroke="#6a6a6a" stroke-width="1.3"/>
<path d="M63.0 177.3H68.0" stroke="#1a1a1a" stroke-width="1.3"/>
<path d="M63.0 205.6H68.0" stroke="#6a6a6a" stroke-width="1.3"/>
<path d="M63.0 233.9H68.0" stroke="#dcdcdc" stroke-width="1.3"/>
<path d="M59.0 262.2H68.0" stroke="#1a1a1a" stroke-width="1.3"/>
<path d="M63.0 290.5H68.0" stroke="#1a1a1a" stroke-width="1.3"/>
<path d="M63.0 318.8H68.0" stroke="#1a1a1a" stroke-width="1.3"/>
<path d="M63.0 347.1H68.0" stroke="#dcdcdc" stroke-width="1.3"/>
<path d="M59.0 375.4H68.0" stroke="#a8a8a8" stroke-width="1.3"/>
<path d="M63.0 403.7H68.0" stroke="#1a1a1a" stroke-width="1.3"/>
<path d="M63.0 432.0H68.0" stroke="#1a1a1a" stroke-width="1.3"/>
<path d="M63.0 460.3H68.0" stroke="#6a6a6a" stroke-width="1.3"/>
<path d="M59.0 488.6H68.0" stroke="#a8a8a8" stroke-width="1.3"/>
<path d="M63.0 516.9H68.0" stroke="#1a1a1a" stroke-width="1.3"/>
<path d="M63.0 545.2H68.0" stroke="#1a1a1a" stroke-width="1.3"/>
<path d="M63.0 573.5H68.0" stroke="#1a1a1a" stroke-width="1.3"/>
<path d="M59.0 601.8H68.0" stroke="#dcdcdc" stroke-width="1.3"/>
<path d="M63.0 630.1H68.0" stroke="#a8a8a8" stroke-width="1.3"/>
<path d="M63.0 658.4H68.0" stroke="#1a1a1a" stroke-width="1.3"/>
<path d="M63.0 686.7H68.0" stroke="#1a1a1a" stroke-width="1.3"/>
<path d="M59.0 715.0H68.0" stroke="#6a6a6a" stroke-width="1.3"/>
<g font-family="Liberation Sans, sans-serif" font-size="25" letter-spacing="0.6" fill="#000">
<text x="582.3" y="127.6" text-anchor="middle">0</text>
<text x="479.5" y="127.6" text-anchor="middle">10</text>
<text x="376.7" y="127.6" text-anchor="middle">20</text>
<text x="273.9" y="127.6" text-anchor="middle">30</text>
<text x="171.1" y="127.6" text-anchor="middle">40</text>
<text x="68.3" y="127.6" text-anchor="middle">50</text>
<text x="53.8" y="723.8" text-anchor="end">0</text>
<text x="53.8" y="610.6" text-anchor="end">10</text>
<text x="53.8" y="497.4" text-anchor="end">20</text>
<text x="53.8" y="384.2" text-anchor="end">30</text>
<text x="53.8" y="271.0" text-anchor="end">40</text>
<text x="53.8" y="157.8" text-anchor="end">50</text>
</g>
<text x="618.5" y="133" font-family="Liberation Sans, sans-serif" font-weight="bold" font-size="35.5">v, m/s</text>
<rect x="619.0" y="156.5" width="27.5" height="556.7" fill="url(#cbg)" stroke="#000" stroke-width="1.5"/>
<path d="M618.3 156.8H660" stroke="#000" stroke-width="2.4"/>
<path d="M646.5 713.2H660.0M646.5 685.4H660.0M646.5 657.5H660.0M646.5 629.7H660.0M646.5 601.9H660.0M646.5 574.0H660.0M646.5 546.2H660.0M646.5 518.4H660.0M646.5 490.5H660.0M646.5 462.7H660.0M646.5 434.9H660.0M646.5 407.0H660.0M646.5 379.2H660.0M646.5 351.3H660.0M646.5 323.5H660.0M646.5 295.7H660.0M646.5 267.8H660.0M646.5 240.0H660.0M646.5 212.2H660.0M646.5 184.3H660.0M646.5 156.5H660.0M639.5 707.6H646.5M639.5 702.1H646.5M639.5 696.5H646.5M639.5 690.9H646.5M639.5 679.8H646.5M639.5 674.2H646.5M639.5 668.7H646.5M639.5 663.1H646.5M639.5 652.0H646.5M639.5 646.4H646.5M639.5 640.8H646.5M639.5 635.3H646.5M639.5 624.1H646.5M639.5 618.6H646.5M639.5 613.0H646.5M639.5 607.4H646.5M639.5 596.3H646.5M639.5 590.7H646.5M639.5 585.2H646.5M639.5 579.6H646.5M639.5 568.5H646.5M639.5 562.9H646.5M639.5 557.3H646.5M639.5 551.8H646.5M639.5 540.6H646.5M639.5 535.1H646.5M639.5 529.5H646.5M639.5 523.9H646.5M639.5 512.8H646.5M639.5 507.2H646.5M639.5 501.7H646.5M639.5 496.1H646.5M639.5 485.0H646.5M639.5 479.4H646.5M639.5 473.8H646.5M639.5 468.3H646.5M639.5 457.1H646.5M639.5 451.6H646.5M639.5 446.0H646.5M639.5 440.4H646.5M639.5 429.3H646.5M639.5 423.7H646.5M639.5 418.1H646.5M639.5 412.6H646.5M639.5 401.4H646.5M639.5 395.9H646.5M639.5 390.3H646.5M639.5 384.7H646.5M639.5 373.6H646.5M639.5 368.0H646.5M639.5 362.5H646.5M639.5 356.9H646.5M639.5 345.8H646.5M639.5 340.2H646.5M639.5 334.6H646.5M639.5 329.1H646.5M639.5 317.9H646.5M639.5 312.4H646.5M639.5 306.8H646.5M639.5 301.2H646.5M639.5 290.1H646.5M639.5 284.5H646.5M639.5 279.0H646.5M639.5 273.4H646.5M639.5 262.3H646.5M639.5 256.7H646.5M639.5 251.1H646.5M639.5 245.6H646.5M639.5 234.4H646.5M639.5 228.9H646.5M639.5 223.3H646.5M639.5 217.7H646.5M639.5 206.6H646.5M639.5 201.0H646.5M639.5 195.5H646.5M639.5 189.9H646.5M639.5 178.8H646.5M639.5 173.2H646.5M639.5 167.6H646.5M639.5 162.1H646.5" stroke="#000" stroke-width="1.5" fill="none"/>
<g font-family="Liberation Sans, sans-serif" font-weight="bold" font-size="20.5" letter-spacing="0.5" fill="#000">
<text x="663" y="720.4">0.000</text>
<text x="663" y="692.6">0.1400</text>
<text x="663" y="664.7">0.2800</text>
<text x="663" y="636.9">0.4200</text>
<text x="663" y="609.1">0.5600</text>
<text x="663" y="581.2">0.7000</text>
<text x="663" y="553.4">0.8400</text>
<text x="663" y="525.6">0.9800</text>
<text x="663" y="497.7">1.120</text>
<text x="663" y="469.9">1.260</text>
<text x="663" y="442.1">1.400</text>
<text x="663" y="414.2">1.540</text>
<text x="663" y="386.4">1.680</text>
<text x="663" y="358.5">1.820</text>
<text x="663" y="330.7">1.960</text>
<text x="663" y="302.9">2.100</text>
<text x="663" y="275.0">2.240</text>
<text x="663" y="247.2">2.380</text>
<text x="663" y="219.4">2.520</text>
<text x="663" y="191.5">2.660</text>
<text x="663" y="163.7">2.800</text>
</g>
<g fill="none" stroke="#000" stroke-linecap="round"><path d="M300.9 775.6C302.6 773.7 304.5 772.9 306.2 773.3" stroke-width="1.7"/><path d="M306.4 774C306.9 777 306.5 781 306.2 786C306 789.5 306.3 791 307 791.2" stroke-width="3.1"/><path d="M307 791.2C311.5 789 316.5 784.5 318.8 779.2C320.2 776 320.2 773.2 318.6 772.8C317 772.4 314.6 774.1 313.6 775.6" stroke-width="1.9"/></g>
<g fill="none" stroke="#000" stroke-linecap="round" transform="translate(106.44 194.49) scale(0.765)"><path d="M300.9 775.6C302.6 773.7 304.5 772.9 306.2 773.3" stroke-width="1.7"/><path d="M306.4 774C306.9 777 306.5 781 306.2 786C306 789.5 306.3 791 307 791.2" stroke-width="3.1"/><path d="M307 791.2C311.5 789 316.5 784.5 318.8 779.2C320.2 776 320.2 773.2 318.6 772.8C317 772.4 314.6 774.1 313.6 775.6" stroke-width="1.9"/></g>
<g font-family="Liberation Serif, serif" fill="#000">
<text x="321" y="800.4" font-size="32" font-style="italic" textLength="16.5" lengthAdjust="spacingAndGlyphs">a</text>
<text x="353" y="800.4" font-size="32" font-style="italic" textLength="20" lengthAdjust="spacingAndGlyphs">g</text>
<rect x="389" y="774.4" width="26" height="2.7"/><rect x="389" y="783.1" width="26" height="2.7"/>
<text x="430" y="792.3" font-size="42" textLength="99.5" lengthAdjust="spacingAndGlyphs">2.025</text>
<text x="536" y="760.5" font-size="40" font-style="italic" textLength="37.5" lengthAdjust="spacingAndGlyphs">m</text>
<rect x="536.7" y="778.3" width="35.8" height="2.9"/>
<text x="545" y="820" font-size="40" font-style="italic" textLength="20" lengthAdjust="spacingAndGlyphs">s</text>
</g>
</svg>
</body></html>
